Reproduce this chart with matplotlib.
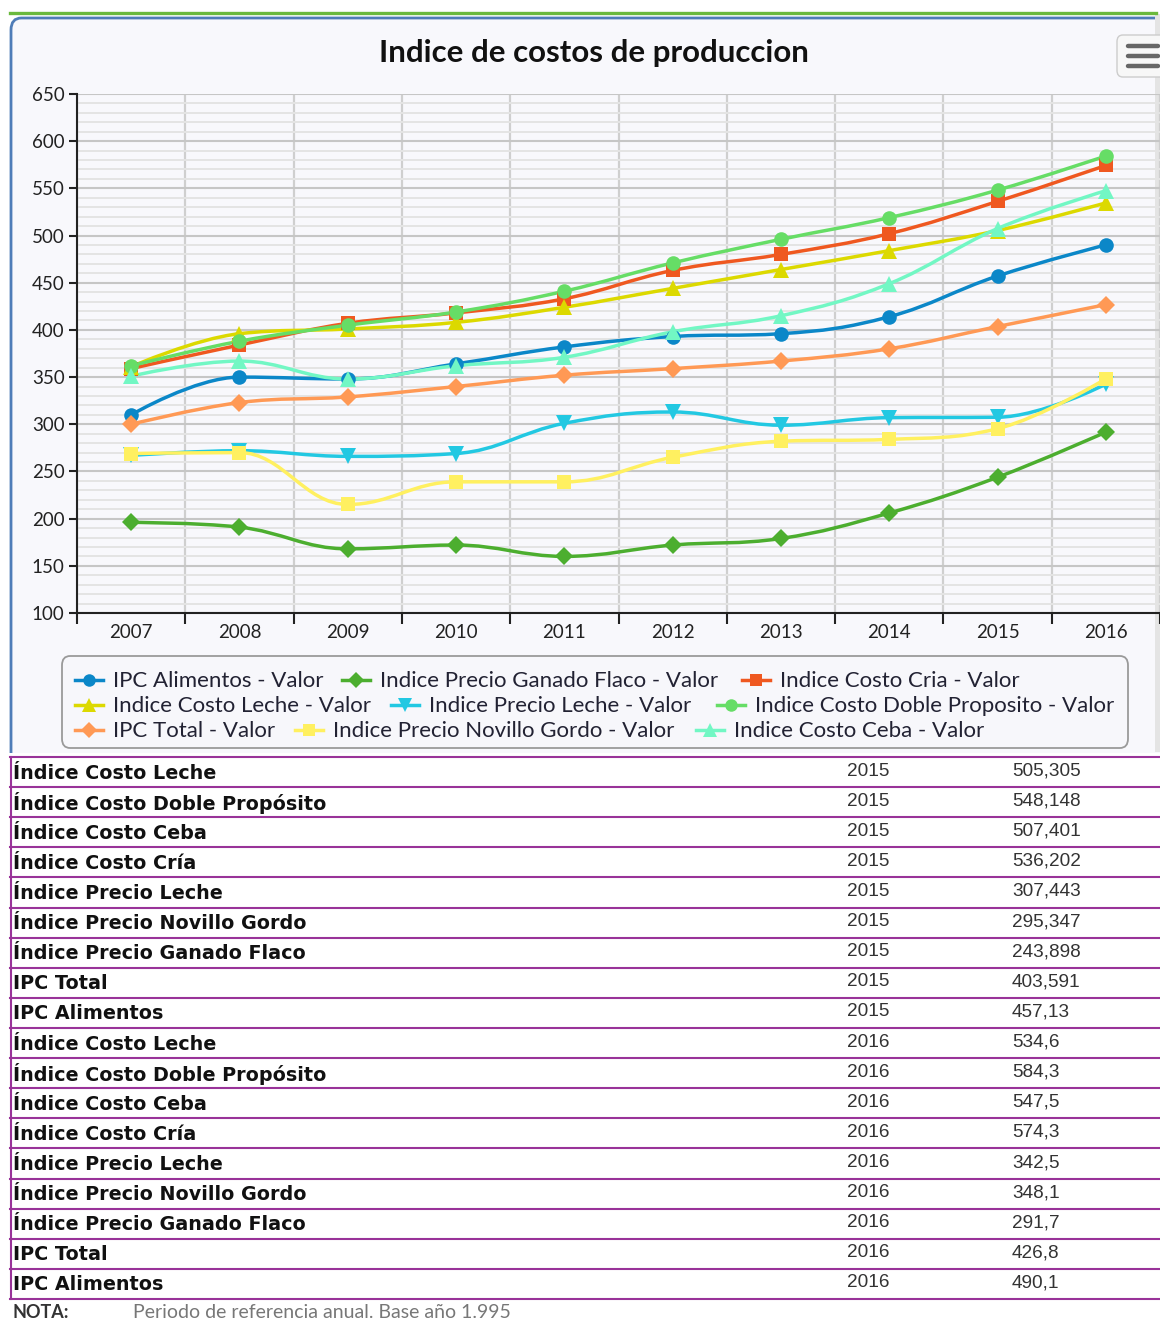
import matplotlib
matplotlib.use("Agg")
import matplotlib.pyplot as plt
from matplotlib.path import Path
from matplotlib.patches import PathPatch, FancyBboxPatch, Rectangle
from matplotlib.lines import Line2D
import numpy as np

# ----- data -----
years = ["2007", "2008", "2009", "2010", "2011", "2012", "2013", "2014", "2015", "2016"]

ipc_alimentos = [310, 350, 348, 364, 382, 393, 396, 414, 457.13, 490.1]
ganado_flaco = [196, 191, 168, 172, 160, 172, 179, 206, 243.898, 291.7]
costo_cria = [359, 384, 407, 418, 433, 463, 480, 502, 536.202, 574.3]
costo_leche = [361, 396, 401, 408, 424, 444, 464, 484, 505.305, 534.6]
precio_leche = [267, 272, 266, 269, 301, 313, 299, 307, 307.443, 342.5]
doble_proposito = [362, 388, 405, 419, 441, 471, 496, 519, 548.148, 584.3]
ipc_total = [300, 323, 329, 340, 352, 359, 367, 380, 403.591, 426.8]
novillo_gordo = [269, 270, 215, 239, 239, 265, 282, 284, 295.347, 348.1]
costo_ceba = [351, 367, 348, 362, 371, 398, 415, 449, 507.401, 547.5]

series_names = ["IPC Alimentos - Valor", "Indice Precio Ganado Flaco - Valor",
                "Indice Costo Cria - Valor", "Indice Costo Leche - Valor",
                "Indice Precio Leche - Valor", "Indice Costo Doble Proposito - Valor",
                "IPC Total - Valor", "Indice Precio Novillo Gordo - Valor",
                "Indice Costo Ceba - Valor"]
series_values = [ipc_alimentos, ganado_flaco, costo_cria, costo_leche, precio_leche,
                 doble_proposito, ipc_total, novillo_gordo, costo_ceba]
colors = ["#0b87c8", "#4cae2f", "#ef5820", "#dcd900", "#22c8e2",
          "#66dd66", "#ff9955", "#fff060", "#72f7c4"]
markers = ["o", "D", "s", "^", "v", "o", "D", "s", "^"]

table_labels = ["Índice Costo Leche", "Índice Costo Doble Propósito", "Índice Costo Ceba",
                "Índice Costo Cría", "Índice Precio Leche", "Índice Precio Novillo Gordo",
                "Índice Precio Ganado Flaco", "IPC Total", "IPC Alimentos"] * 2
table_years = ["2015"] * 9 + ["2016"] * 9
table_values = ["505,305", "548,148", "507,401", "536,202", "307,443", "295,347",
                "243,898", "403,591", "457,13",
                "534,6", "584,3", "547,5", "574,3", "342,5", "348,1", "291,7",
                "426,8", "490,1"]

# ----- helpers -----
W, H = 1160, 1323
def fx(x):
    return x / W
def fy(y):
    return 1 - y / H

def spline_path(xs, ys, smoothing=1.5):
    # highcharts-like spline with bezier control points
    n = len(xs)
    denom = smoothing + 1
    left = [None] * n
    right = [None] * n
    for i in range(1, n - 1):
        x, y = xs[i], ys[i]
        lx = (smoothing * x + xs[i - 1]) / denom
        ly = (smoothing * y + ys[i - 1]) / denom
        rx = (smoothing * x + xs[i + 1]) / denom
        ry = (smoothing * y + ys[i + 1]) / denom
        if rx != lx:
            corr = ((ry - ly) * (rx - x)) / (rx - lx) + y - ry
            ly += corr
            ry += corr
        if ly > ys[i - 1] and ly > y:
            ly = max(ys[i - 1], y); ry = 2 * y - ly
        elif ly < ys[i - 1] and ly < y:
            ly = min(ys[i - 1], y); ry = 2 * y - ly
        if ry > ys[i + 1] and ry > y:
            ry = max(ys[i + 1], y); ly = 2 * y - ry
        elif ry < ys[i + 1] and ry < y:
            ry = min(ys[i + 1], y); ly = 2 * y - ry
        left[i] = (lx, ly)
        right[i] = (rx, ry)
    verts = [(xs[0], ys[0])]
    codes = [Path.MOVETO]
    for i in range(1, n):
        c1 = right[i - 1] or (xs[i - 1], ys[i - 1])
        c2 = left[i] or (xs[i], ys[i])
        verts += [c1, c2, (xs[i], ys[i])]
        codes += [Path.CURVE4] * 3
    return Path(verts, codes)

LEG_FONT = ["Lato", "DejaVu Sans"]

fig = plt.figure(figsize=(W / 100, H / 100), dpi=100)
fig.patch.set_facecolor("white")

# top green rule and chart frame
fig.add_artist(Line2D([fx(10), fx(1156)], [fy(13), fy(13)], color="#6ab93d", lw=2.4,
                      transform=fig.transFigure))
frame = FancyBboxPatch((fx(11), fy(780)), fx(1200) - fx(11), (780 - 18) / H,
                       boxstyle="round,pad=0,rounding_size=0.009",
                       transform=fig.transFigure, facecolor="#f8f8fc",
                       edgecolor="#4f7db8", lw=2, zorder=-3)
fig.add_artist(frame)
# white page below the chart frame
fig.add_artist(Rectangle((0, 0), 1, fy(753), transform=fig.transFigure,
                         facecolor="white", edgecolor="none", zorder=-2.5))
fig.add_artist(Rectangle((fx(1155), fy(752)), fx(6), (752 - 14) / H, transform=fig.transFigure,
                         facecolor="#e4e4e4", edgecolor="none", zorder=-2))

# title
fig.text(fx(594), fy(53), "Indice de costos de produccion", ha="center", va="center",
         fontsize=22.5, fontweight="bold", family=LEG_FONT, color="#111111")

# menu button
fig.add_artist(FancyBboxPatch((fx(1117), fy(77)), fx(60), 42 / H,
                              boxstyle="round,pad=0,rounding_size=0.005",
                              transform=fig.transFigure, facecolor="#f7f7f7",
                              edgecolor="#cccccc", lw=1, zorder=-1))
for yy in [46, 56, 66]:
    fig.add_artist(Line2D([fx(1128), fx(1158)], [fy(yy), fy(yy)], color="#666666",
                          lw=3.2, solid_capstyle="round", transform=fig.transFigure))

# ----- plot -----
ax = fig.add_axes([fx(77), fy(613), fx(1160) - fx(77), (613 - 94) / H])
ax.set_facecolor("none")
xpos = np.arange(len(years))

for name, vals, col, mk in zip(series_names, series_values, colors, markers):
    ax.add_patch(PathPatch(spline_path(list(xpos), vals), facecolor="none",
                           edgecolor=col, lw=2.5, zorder=3))
    ms = 10.5 if mk in ("o", "s") else (9 if mk == "D" else 11.5)
    ax.plot(xpos, vals, linestyle="none", marker=mk, markersize=ms, color=col,
            markeredgewidth=0, zorder=4)

ax.set_xlim(-0.5, 9.5)
ax.set_ylim(100, 650)
ax.set_yticks(np.arange(100, 651, 50))
ax.set_yticks(np.arange(100, 651, 10), minor=True)
ax.set_xticks(xpos)
ax.set_xticklabels(years)
ax.set_xticks(np.arange(-0.5, 9.6, 1), minor=True)

ax.grid(which="minor", axis="y", color="#e4e4e4", lw=1.4, zorder=0)
ax.grid(which="major", axis="y", color="#c6c6c6", lw=1.5, zorder=1)
ax.grid(which="minor", axis="x", color="#cfcfcf", lw=1.6, zorder=1)
ax.set_axisbelow(True)

for s in ["top", "right"]:
    ax.spines[s].set_visible(False)
for s in ["left", "bottom"]:
    ax.spines[s].set_color("#222222")
    ax.spines[s].set_linewidth(1.5)

ax.tick_params(axis="y", which="major", length=6, width=1.5, color="#222222",
               labelsize=13.5, labelcolor="#222222", pad=3)
ax.tick_params(axis="y", which="minor", length=0)
ax.tick_params(axis="x", which="major", length=0, labelsize=13.5, labelcolor="#222222", pad=8)
ax.tick_params(axis="x", which="minor", length=8, width=1.5, color="#222222")
for lab in ax.get_xticklabels() + ax.get_yticklabels():
    lab.set_family(LEG_FONT)

# ----- legend -----
fig.add_artist(FancyBboxPatch((fx(62), fy(748)), fx(1128) - fx(62), (748 - 656) / H,
                              boxstyle="round,pad=0,rounding_size=0.007",
                              transform=fig.transFigure, facecolor="#f7f7fb",
                              edgecolor="#9a9a9a", lw=1.3, zorder=-1))
leg_rows = [680, 705, 730]
leg_x = [[89, 356, 756], [89, 405, 731], [89, 309, 710]]
order = [[0, 1, 2], [3, 4, 5], [6, 7, 8]]
for r, yy in enumerate(leg_rows):
    for c, idx in enumerate(order[r]):
        cx = leg_x[r][c]
        fig.add_artist(Line2D([fx(cx - 14), fx(cx + 14)], [fy(yy), fy(yy)], color=colors[idx],
                              lw=2.5, transform=fig.transFigure))
        ms = 9 if markers[idx] in ("o", "s") else (8 if markers[idx] == "D" else 10)
        fig.add_artist(Line2D([fx(cx)], [fy(yy)], marker=markers[idx], markersize=ms,
                              color=colors[idx], markeredgewidth=0, transform=fig.transFigure))
        fig.text(fx(cx + 24), fy(yy + 1), series_names[idx], ha="left", va="center",
                 fontsize=16, family=LEG_FONT, color="#222233")

# ----- table -----
row_top = 757
row_h = (1299 - 757) / len(table_labels)
for k in range(len(table_labels) + 1):
    yy = row_top + k * row_h
    fig.add_artist(Line2D([fx(10), fx(1160)], [fy(yy), fy(yy)], color="#993399", lw=1.5,
                          transform=fig.transFigure))
fig.add_artist(Line2D([fx(10.5), fx(10.5)], [fy(row_top), fy(1299)], color="#993399", lw=1.5,
                      transform=fig.transFigure))
for k, (lab, yr, val) in enumerate(zip(table_labels, table_years, table_values)):
    cy = row_top + (k + 0.5) * row_h
    fig.text(fx(13), fy(cy + 1), lab, ha="left", va="center", fontsize=13.8,
             fontweight="bold", family=["DejaVu Sans"], color="#111111")
    fig.text(fx(847), fy(cy - 1), yr, ha="left", va="center", fontsize=13.7,
             family=["Liberation Sans"], color="#333333")
    fig.text(fx(1012), fy(cy - 1), val, ha="left", va="center", fontsize=13.7,
             family=["Liberation Sans"], color="#333333")

fig.text(fx(13), fy(1313), "NOTA:", ha="left", va="center", fontsize=13,
         fontweight="bold", family=LEG_FONT, color="#333333")
fig.text(fx(133), fy(1313), "Periodo de referencia anual. Base año 1.995", ha="left",
         va="center", fontsize=14, family=LEG_FONT, color="#777777")

fig.savefig("out.png", dpi=100)
